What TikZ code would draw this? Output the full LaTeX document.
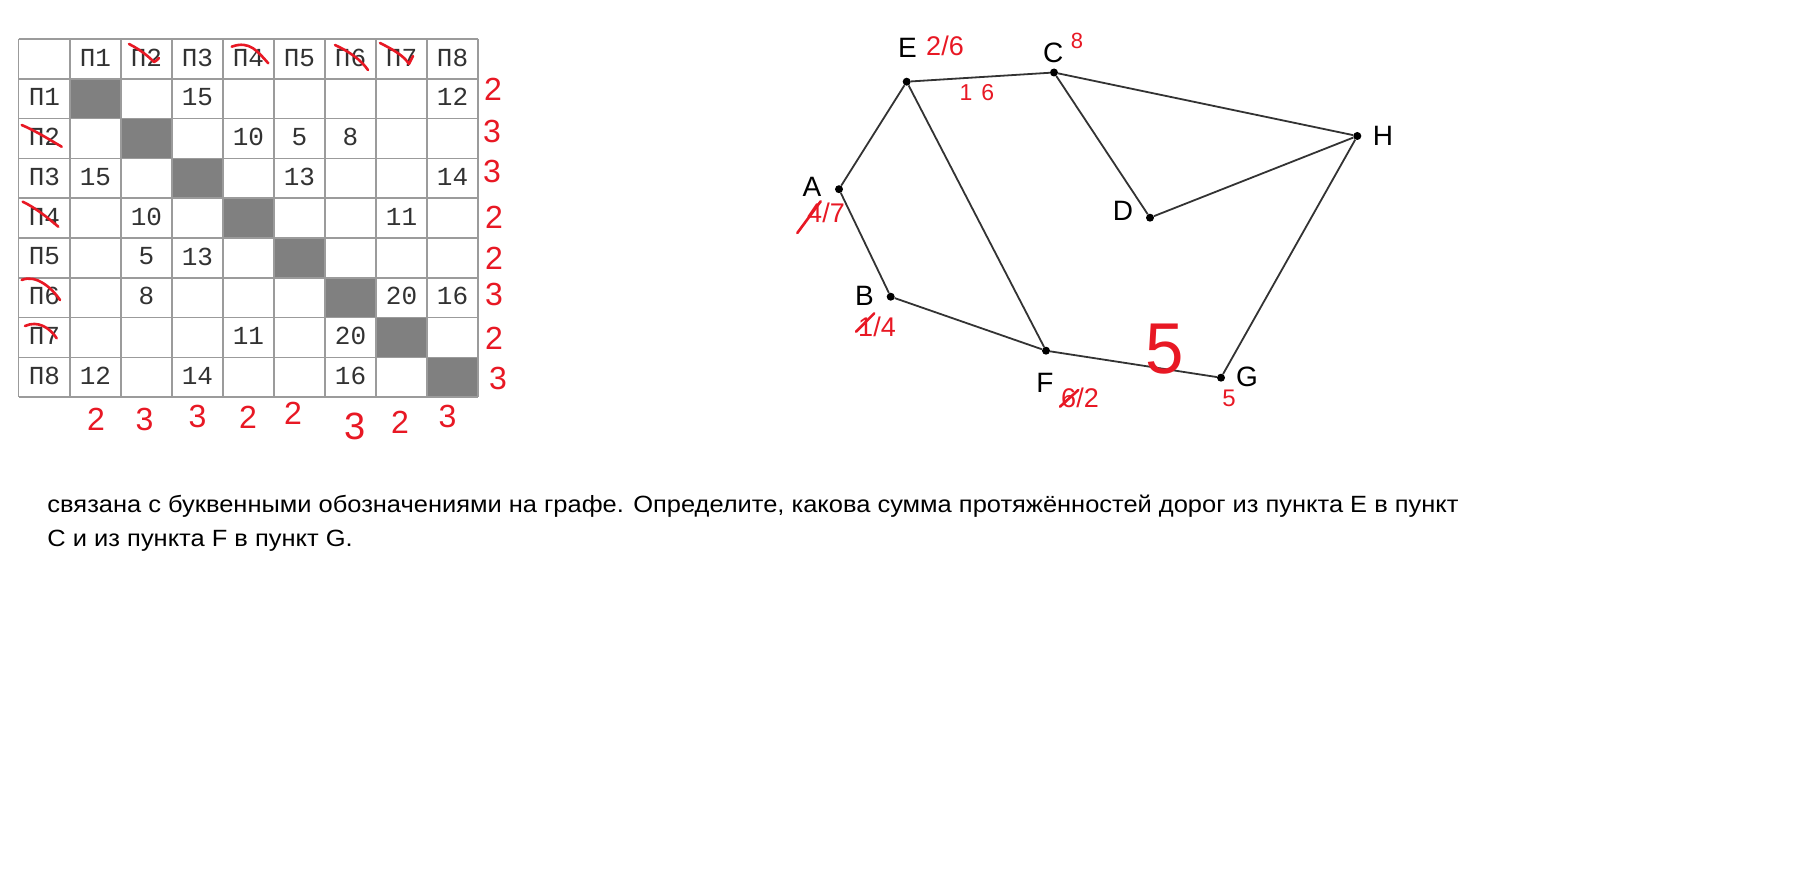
\documentclass[tikz,border=0pt]{standalone}
\usepackage{fontspec}
\setmainfont{Liberation Sans}
\newfontfamily\monof{Liberation Mono}
\definecolor{hred}{RGB}{232,24,36}
\definecolor{edgec}{RGB}{51,51,51}
\definecolor{gridc}{RGB}{155,155,155}
\definecolor{shadec}{RGB}{128,128,128}
\definecolor{tabtext}{RGB}{50,50,50}
\newsavebox\lineonebox
\newsavebox\linetwobox
\newdimen\tmpwd
\begin{document}
\sbox\lineonebox{\fontsize{23.5}{28}\selectfont связана с буквенными обозначениями на графе. Определите, какова сумма протяжённостей дорог из пункта E в пункт}%
\sbox\linetwobox{\fontsize{23.5}{28}\selectfont C и из пункта F в пункт G.}%
\tmpwd=\wd\lineonebox
\pgfmathsetmacro\sxf{1411/\tmpwd}%
\begin{tikzpicture}[x=1pt,y=-1pt,
  vtx/.style={circle, fill=black, inner sep=0pt, minimum size=8pt},
  edge/.style={draw=edgec, line width=1.8pt},
  lbl/.style={font=\fontsize{28}{30}\selectfont, text=black, inner sep=0pt},
  rlbl/.style={font=\fontsize{27}{30}\selectfont, text=hred, inner sep=0pt},
  hand/.style={draw=hred, line width=2.6pt, line cap=round, line join=round},
  hdig/.style={font=\fontsize{32}{34}\selectfont, text=hred, inner sep=0pt},
  cell/.style={font=\monof\fontsize{26}{28}\selectfont, text=tabtext, inner sep=0pt},
  gridl/.style={draw=gridc, line width=1.5pt}]
\useasboundingbox (0,0) rectangle (1808,896);
\fill[white] (0,0) rectangle (1808,896);
% ---------- table ----------
\foreach \i in {1,...,8}
  \fill[shadec] ({70+51*(\i-1)},{39+39.8*\i}) rectangle +(51,39.8);
\foreach \x in {18.5,70,121,172,223,274,325,376,427,478}
  \draw[gridl] (\x,39) -- (\x,397.2);
\foreach \y in {39,78.8,118.6,158.4,198.2,238,277.8,317.6,357.4,397.2}
  \draw[gridl] (18.5,\y) -- (478,\y);
\foreach \c in {1,...,8} {
  \node[cell] (h\c) at ({95.5+51*(\c-1)},58) {П\c};
  \node[cell] (r\c) at (44.5,{57.5+39.8*\c}) {П\c};
}
\foreach \r/\c/\v in {1/3/15,1/8/12,2/4/10,2/5/5,2/6/8,3/1/15,3/5/13,3/8/14,
  4/2/10,4/7/11,5/2/5,5/3/13,6/2/8,6/7/20,6/8/16,7/4/11,7/6/20,8/1/12,8/3/14,8/6/16}
  \node[cell] (v\r\c) at ({95.5+51*(\c-1)},{57.5+39.8*\r}) {\v};
% strike marks
\draw[hand] (129,44) .. controls (141,50) and (149,57) .. (154,62) .. controls (156,61) .. (159,58);
\draw[hand] (231.7,46.7) .. controls (250,40) and (258,52) .. (268.3,63.3);
\draw[hand] (335,45) .. controls (350,52) and (361,60) .. (368,70);
\draw[hand] (380,43) .. controls (394,50) and (404,56) .. (409,64) .. controls (411,60) .. (413,56);
\draw[hand] (21.7,125) .. controls (36,131) and (50,140) .. (61.7,146.7);
\draw[hand] (22.7,201.7) .. controls (36,208) and (48,218) .. (58.3,226.7);
\draw[hand] (21.7,280) .. controls (36,274) and (52,288) .. (60,300);
\draw[hand] (25,326) .. controls (38,320) and (50,328) .. (56.7,338.3);
% red digits right column
\node[hdig] (s1) at (493,89) {2};
\node[hdig] (s2) at (492,131) {3};
\node[hdig] (s3) at (492,171) {3};
\node[hdig] (s4) at (494,217) {2};
\node[hdig] (s5) at (494,258) {2};
\node[hdig] (s6) at (494,294) {3};
\node[hdig] (s7) at (494,338) {2};
\node[hdig] (s8) at (498,378) {3};
% red digits bottom row
\node[hdig] (b1) at (96,419) {2};
\node[hdig] (b2) at (144.5,419) {3};
\node[hdig] (b3) at (197.5,416) {3};
\node[hdig] (b4) at (248,417) {2};
\node[hdig] (b5) at (293,413) {2};
\node[hdig, font=\fontsize{38}{40}\selectfont] (b6) at (355,426) {3};
\node[hdig] (b7) at (400,422) {2};
\node[hdig] (b8) at (447.5,416) {3};
% ---------- graph ----------
\node[vtx] (E) at (906.7,81.7) {};
\node[vtx] (C) at (1054,72.5) {};
\node[vtx] (A) at (839,189.2) {};
\node[vtx] (B) at (890.7,296.7) {};
\node[vtx] (F) at (1046,350.7) {};
\node[vtx] (H) at (1357.3,136) {};
\node[vtx] (D) at (1150,217.7) {};
\node[vtx] (G) at (1221,377.7) {};
\draw[edge] (A) -- (E) -- (C) -- (H) -- (G) -- (F) -- (B) -- (A);
\draw[edge] (E) -- (F);
\draw[edge] (C) -- (D) -- (H);
\node[lbl] (lE) at (907.5,48.3) {E};
\node[lbl] (lC) at (1053.3,53.3) {C};
\node[lbl] (lH) at (1383,135.5) {H};
\node[lbl] (lD) at (1123,210.5) {D};
\node[lbl] (lG) at (1247,377) {G};
\node[lbl] (lF) at (1045,383) {F};
\node[lbl] (lA) at (812,186.5) {A};
\node[lbl] (lB) at (864.5,296) {B};
% red annotations
\node[rlbl] (nE) at (945,46) {2/6};
\node[rlbl, font=\fontsize{22}{24}\selectfont] (nC) at (1077,41) {8};
\node[rlbl] (nA) at (826,213) {4/7};
\node[rlbl] (nB) at (877,327) {1/4};
\node[rlbl] (nF) at (1080,397.5) {6/2};
\node[rlbl, font=\fontsize{24}{26}\selectfont] (nG) at (1229,398) {5};
\node[rlbl, font=\fontsize{23}{25}\selectfont] (nEC) at (977,92.5) {1\hspace{9pt}6};
\node[rlbl, font=\fontsize{60}{62}\selectfont] (nFG) at (1165,349) {\scalebox{1.15}[1.2]{5}};
\draw[hand] (797.3,233) -- (820.7,201.3);
\draw[hand] (856,331.7) -- (874.3,313.3);
\draw[hand] (1060,406.7) -- (1078.3,390);
% ---------- text ----------
\node[anchor=base west, inner sep=0pt, text=black] (t1) at (47.3,512.3) {\scalebox{\sxf}[1]{\usebox\lineonebox}};
\node[anchor=base west, inner sep=0pt, text=black] (t2) at (47.3,546.7) {\scalebox{\sxf}[1]{\usebox\linetwobox}};
\end{tikzpicture}
\end{document}
